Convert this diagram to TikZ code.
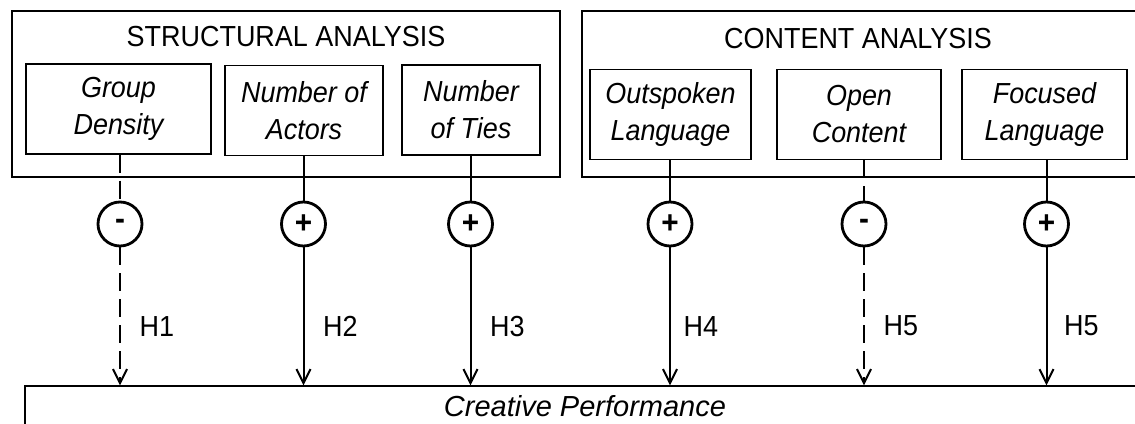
\documentclass[tikz,border=0pt]{standalone}
\usepackage{fontspec}
\setmainfont[FakeStretch=0.93]{Liberation Sans}
\newfontfamily\perffont{Liberation Sans}
\usetikzlibrary{arrows.meta}

\begin{document}
\begin{tikzpicture}[x=0.5pt, y=-0.5pt, line width=0.65pt,
    every node/.style={font=\fontsize{14.5}{18.5}\selectfont},
    varbox/.style={draw, minimum height=45pt, align=center, inner sep=2pt,
      font=\fontsize{14.5}{18.5}\selectfont\itshape},
    sign/.style={draw, circle, line width=1.4pt, minimum size=22pt, inner sep=0pt,
      font=\fontsize{16}{16}\selectfont\bfseries},
    link/.style={line width=1pt},
    hyp/.style={link, -{Straight Barb[length=7pt,width=7pt]}},
    neg/.style={dash pattern=on 9pt off 4pt}]
  \useasboundingbox (0,0) rectangle (1135,423);
  \draw (12,11) rectangle (560,177);
  \draw (582,11) rectangle (1150,177);
  \node (sa) at (286,37) {STRUCTURAL ANALYSIS};
  \node (ca) at (858,39) {CONTENT ANALYSIS};
  \node[varbox, minimum width=92.5pt] (gd) at (118.5,109) {Group\\Density};
  \node[varbox, minimum width=79pt] (na) at (304,110.5) {Number of\\Actors};
  \node[varbox, minimum width=69pt] (nt) at (471,110) {Number\\of Ties};
  \node[varbox, minimum width=80.5pt] (ol) at (670.5,114.5) {Outspoken\\Language};
  \node[varbox, minimum width=82pt] (oc) at (859,114.5) {Open\\Content};
  \node[varbox, minimum width=82.5pt] (fl) at (1044.5,114.5) {Focused\\Language};
  \node[sign] (s1) at (120,224) {-};
  \node[sign] (s2) at (303.5,224) {+};
  \node[sign] (s3) at (470.5,224) {+};
  \node[sign] (s4) at (670,224) {+};
  \node[sign] (s5) at (864,224) {-};
  \node[sign] (s6) at (1046.5,224) {+};
  \node[draw, minimum width=560pt, minimum height=20pt] (cp) at (585,406)
    {\perffont\itshape Creative Performance};
  \draw[link, neg] (gd.south -| s1) -- (s1);
  \draw[link] (na.south -| s2) -- (s2);
  \draw[link] (nt.south -| s3) -- (s3);
  \draw[link] (ol.south -| s4) -- (s4);
  \draw[link, neg] (oc.south -| s5) -- (s5);
  \draw[link] (fl.south -| s6) -- (s6);
  \draw[hyp, neg] (s1) -- (s1 |- cp.north) node[pos=0.57, right=6pt] (h1) {H1};
  \draw[hyp] (s2) -- (s2 |- cp.north) node[pos=0.57, right=6pt] (h2) {H2};
  \draw[hyp] (s3) -- (s3 |- cp.north) node[pos=0.57, right=6pt] (h3) {H3};
  \draw[hyp] (s4) -- (s4 |- cp.north) node[pos=0.57, right=3pt] (h4) {H4};
  \draw[hyp, neg] (s5) -- (s5 |- cp.north) node[pos=0.57, right=6pt] (h5) {H5};
  \draw[hyp] (s6) -- (s6 |- cp.north) node[pos=0.57, right=5pt] (h6) {H5};
\end{tikzpicture}
\end{document}
